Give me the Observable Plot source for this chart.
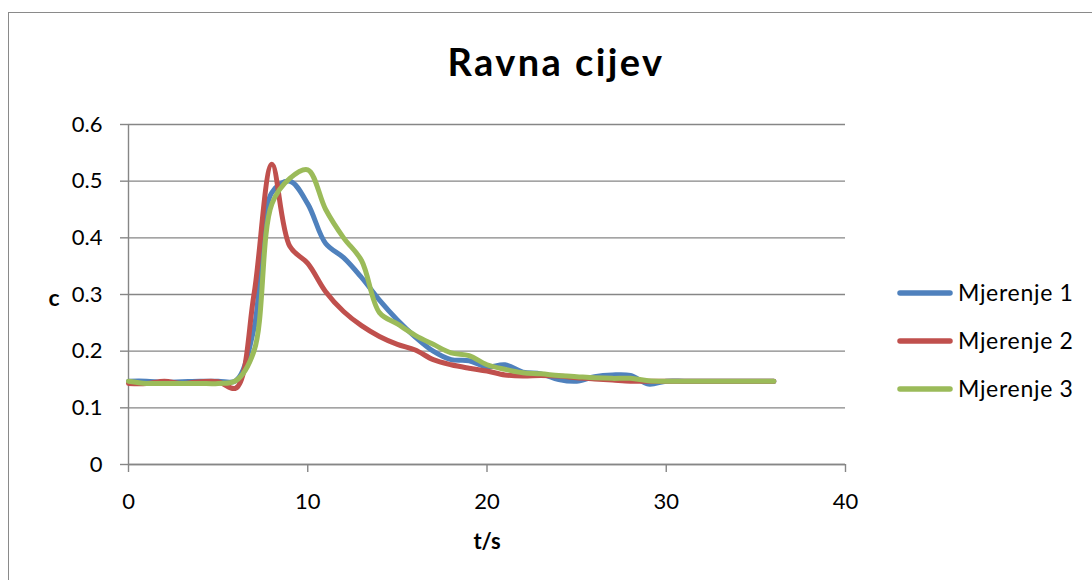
<!DOCTYPE html>
<html>
<head>
<meta charset="utf-8">
<script src="https://cdn.jsdelivr.net/npm/d3@7"></script>
<script src="https://cdn.jsdelivr.net/npm/@observablehq/plot@0.6"></script>
<style>
  html, body { margin: 0; padding: 0; background: #fff; overflow: hidden; }
  body { width: 1092px; height: 580px; position: relative; font-family: Lato, "Open Sans", sans-serif; }
  #frame { position: absolute; left: 8px; top: 12px; width: 1200px; height: 700px; border: 1.5px solid #8a8a8a; box-sizing: border-box; }
  #chart { position: absolute; left: 0; top: 0; }
  #title { position: absolute; left: 0; width: 1112px; top: 38px; text-align: center; font-weight: bold; font-size: 38px; color: #000; letter-spacing: 2.4px; }
  #legend { position: absolute; left: 880px; top: 270px; }
</style>
</head>
<body>
<div id="frame"></div>
<div id="chart"></div>
<div id="title">Ravna cijev</div>
<svg id="legend" width="212" height="140"></svg>
<script>
// Data
const t = [0,1,2,3,4,5,6,7,8,9,10,11,12,13,14,15,16,17,18,19,20,21,22,23,24,25,26,27,28,29,30,31,32,33,34,35,36];
const mjerenje1 = [0.147,0.147,0.145,0.146,0.147,0.147,0.148,0.24,0.48,0.5,0.46,0.39,0.365,0.33,0.29,0.255,0.225,0.2,0.185,0.183,0.172,0.176,0.163,0.16,0.15,0.147,0.155,0.158,0.157,0.142,0.147,0.147,0.147,0.147,0.147,0.147,0.147];
const mjerenje2 = [0.143,0.143,0.147,0.143,0.146,0.146,0.135,0.3,0.53,0.385,0.355,0.305,0.27,0.245,0.226,0.212,0.202,0.185,0.176,0.17,0.165,0.158,0.156,0.157,0.156,0.153,0.151,0.149,0.147,0.147,0.147,0.147,0.147,0.147,0.147,0.147,0.147];
const mjerenje3 = [0.147,0.143,0.143,0.143,0.143,0.143,0.148,0.2,0.46,0.505,0.52,0.45,0.4,0.36,0.268,0.248,0.228,0.212,0.197,0.192,0.176,0.168,0.162,0.16,0.157,0.155,0.153,0.152,0.152,0.148,0.147,0.147,0.147,0.147,0.147,0.147,0.147];
const seriesNames = ["Mjerenje 1", "Mjerenje 2", "Mjerenje 3"];
const seriesColors = ["#4F81BD", "#C0504D", "#9BBB59"];
const xTicks = [0, 10, 20, 30, 40];
const yTicks = [0, 0.1, 0.2, 0.3, 0.4, 0.5, 0.6];
const yTickLabels = ["0", "0.1", "0.2", "0.3", "0.4", "0.5", "0.6"];
const title = "Ravna cijev";
const xLabel = "t/s";
const yLabel = "c";

const seriesValues = [mjerenje1, mjerenje2, mjerenje3];
const data = seriesValues.flatMap((vals, i) => vals.map((v, j) => ({t: t[j], c: v, s: seriesNames[i]})));

const gray = "#868686";
const font = "Lato, 'Open Sans', sans-serif";

const plot = Plot.plot({
  width: 1092,
  height: 580,
  marginLeft: 128,
  marginRight: 247,
  marginTop: 124,
  marginBottom: 116,
  style: {fontFamily: font, fontSize: "22px", color: "#000", background: "transparent"},
  x: {domain: [0, 40], ticks: xTicks},
  y: {domain: [0, 0.6], ticks: yTicks},
  color: {domain: seriesNames, range: seriesColors},
  marks: [
    Plot.gridY(yTicks, {stroke: gray, strokeOpacity: 1, strokeWidth: 1.4, x1: 0, x2: 40}),
    Plot.ruleX([0], {stroke: gray, strokeWidth: 1.4, y1: 0, y2: 0.6}),
    Plot.ruleY([0], {stroke: gray, strokeWidth: 1.4, x1: 0, x2: 40}),
    Plot.axisY(yTicks, {tickSize: 8, tickPadding: 18, stroke: gray, strokeWidth: 1.4, fill: "#000", label: null,
      tickFormat: (d, i) => yTickLabels[i], fontSize: 22}),
    Plot.axisX(xTicks, {tickSize: 8, tickPadding: 21, stroke: gray, strokeWidth: 1.4, fill: "#000", label: null, fontSize: 22}),
    Plot.line(data, {x: "t", y: "c", z: "s", stroke: "s", strokeWidth: 5, curve: "catmull-rom", strokeLinecap: "round", strokeLinejoin: "round"}),
    Plot.text([yLabel], {frameAnchor: "left", dx: -80, dy: 4, text: d => d, fontWeight: "bold", fontSize: 23}),
    Plot.text([xLabel], {frameAnchor: "bottom", dx: 0, dy: 84, text: d => d, fontWeight: "bold", fontSize: 22})
  ]
});
document.getElementById("chart").appendChild(plot);
document.getElementById("title").textContent = title;

// Legend
const legend = d3.select("#legend");
seriesNames.forEach((name, i) => {
  const y = 23 + i * 48;
  legend.append("line").attr("x1", 20).attr("x2", 70).attr("y1", y).attr("y2", y)
    .attr("stroke", seriesColors[i]).attr("stroke-width", 5.5).attr("stroke-linecap", "round");
  legend.append("text").attr("x", 78).attr("y", y).attr("dy", "0.35em")
    .attr("font-family", font).attr("font-size", 23).attr("letter-spacing", "0.7px").attr("fill", "#000").text(name);
});
</script>
</body>
</html>
